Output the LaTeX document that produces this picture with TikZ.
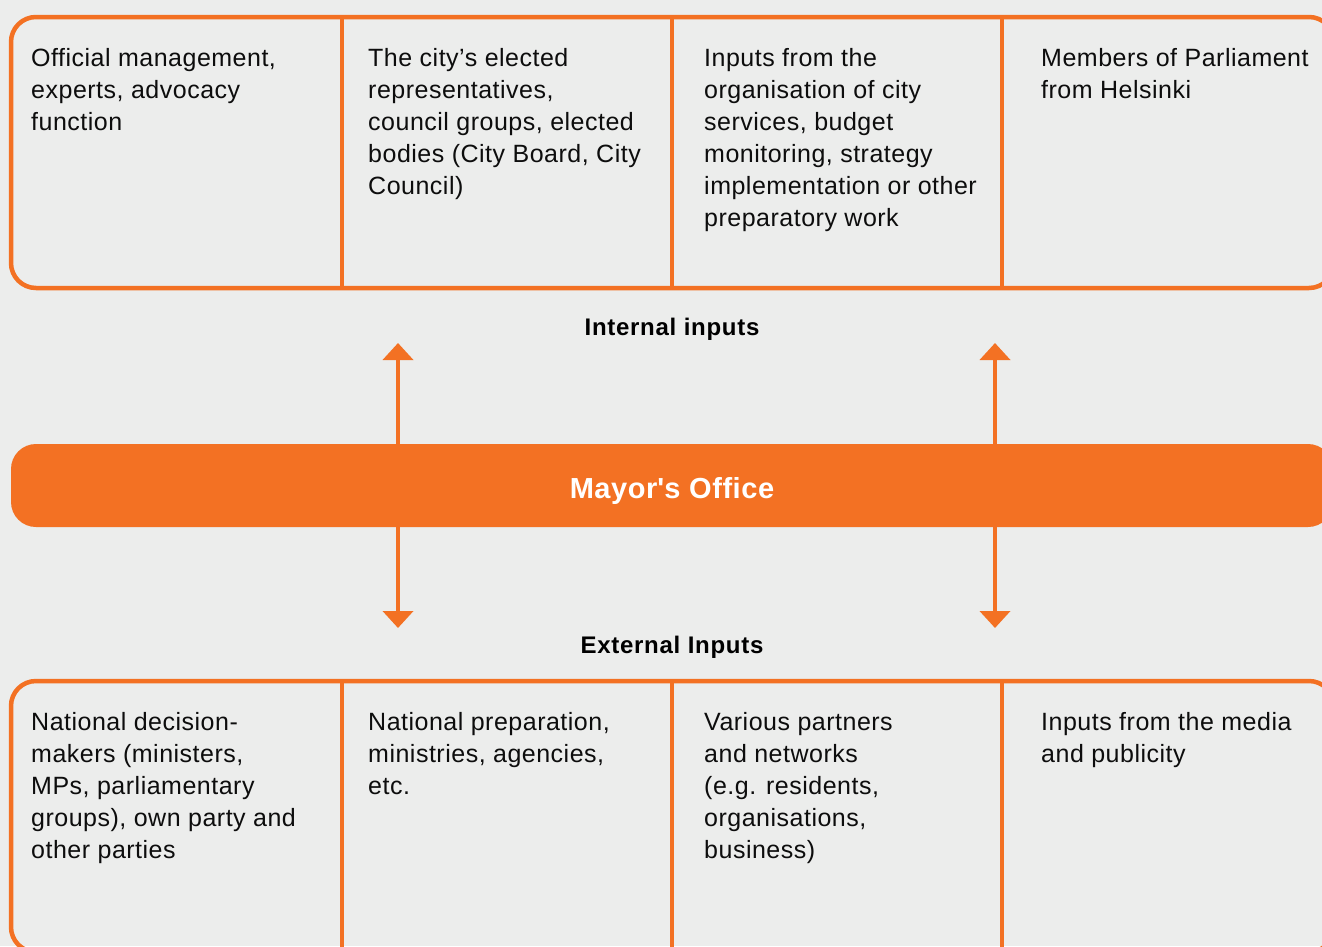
\documentclass[tikz,border=0pt]{standalone}
\usepackage{fontspec}
\setmainfont{Liberation Sans}[LetterSpace=2]
\usetikzlibrary{arrows.meta}
\definecolor{hkiorange}{RGB}{243,113,35}
\definecolor{panelgray}{RGB}{236,237,236}

\begin{document}
\begin{tikzpicture}[x=1pt, y=-1pt,
    frame/.style={draw=hkiorange, line width=4.5pt, rounded corners=25pt},
    divider/.style={draw=hkiorange, line width=4.5pt},
    cell/.style={anchor=north west, inner sep=0pt, align=left, text=black!95,
        font=\fontsize{25}{32}\selectfont},
    heading/.style={inner sep=0pt, text=black,
        font=\bfseries\fontsize{24}{28}\selectfont\addfontfeatures{LetterSpace=3}},
    link/.style={draw=hkiorange, line width=4pt, -{Triangle[width=30pt,length=17pt]}}]

    \clip (0, 0) rectangle (1322, 946);
    \fill[panelgray] (0, 0) rectangle (1322, 946);

    \draw[frame] (11, 17) rectangle (1334, 288);
    \draw[divider] (342, 17) -- (342, 288);
    \draw[divider] (672, 17) -- (672, 288);
    \draw[divider] (1002, 17) -- (1002, 288);

    \draw[frame] (11, 681) rectangle (1334, 952);
    \draw[divider] (342, 681) -- (342, 952);
    \draw[divider] (672, 681) -- (672, 952);
    \draw[divider] (1002, 681) -- (1002, 952);

    \node[cell] (mgmt) at (31, 48) {Official management,\\experts, advocacy\\function};
    \node[cell] (elected) at (368, 48) {The city’s elected\\representatives,\\council groups, elected\\bodies (City Board, City\\Council)};
    \node[cell] (services) at (704, 48) {Inputs from the\\organisation of city\\services, budget\\monitoring, strategy\\implementation or other\\preparatory work};
    \node[cell] (mps) at (1041, 48) {Members of Parliament\\from Helsinki};

    \node[cell] (national) at (31, 712) {National decision-\\makers (ministers,\\MPs, parliamentary\\groups), own party and\\other parties};
    \node[cell] (ministries) at (368, 712) {National preparation,\\ministries, agencies,\\etc.};
    \node[cell] (partners) at (704, 712) {Various partners\\and networks\\(e.g. residents,\\organisations,\\business)};
    \node[cell] (media) at (1041, 712) {Inputs from the media\\and publicity};

    \node[heading] (internal) at (672, 329) {Internal inputs};
    \node[heading] (external) at (672, 647) {External Inputs};

    \node[fill=hkiorange, rounded corners=25pt, minimum width=1322pt, minimum height=83pt,
        text height=25pt, text depth=0pt, inner ysep=0pt,
        text=white, font=\bfseries\fontsize{29}{34}\selectfont] (mayor) at (672, 485.5)
        {Mayor\textquotesingle s Office};

    \coordinate (inL) at (398, 343);
    \coordinate (inR) at (995, 343);
    \coordinate (exL) at (398, 628);
    \coordinate (exR) at (995, 628);

    \draw[link] (mayor.north -| inL) -- (inL);
    \draw[link] (mayor.north -| inR) -- (inR);
    \draw[link] (mayor.south -| exL) -- (exL);
    \draw[link] (mayor.south -| exR) -- (exR);

\end{tikzpicture}
\end{document}
